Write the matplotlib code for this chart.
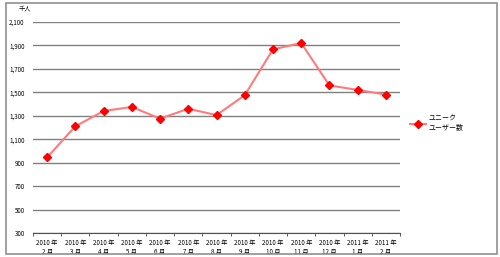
import numpy as np
import matplotlib
matplotlib.use('Agg')
import matplotlib.pyplot as plt
from matplotlib.patches import Rectangle

plt.rcParams['font.family'] = ['Noto Sans CJK JP', 'DejaVu Sans']

# データ
months = ['2010 年\n2 月', '2010 年\n3 月', '2010 年\n4 月', '2010 年\n5 月',
          '2010 年\n6 月', '2010 年\n7 月', '2010 年\n8 月', '2010 年\n9 月',
          '2010 年\n10 月', '2010 年\n11 月', '2010 年\n12 月', '2011 年\n1 月',
          '2011 年\n2 月']
users = [945, 1210, 1340, 1375, 1275, 1360, 1305, 1475, 1865, 1920, 1558, 1520, 1480]
yticks = [300, 500, 700, 900, 1100, 1300, 1500, 1700, 1900, 2100]

fig = plt.figure(figsize=(5, 2.57), dpi=100)
# 外枠
fig.patches.append(Rectangle((0.012, 0.01), 0.982, 0.978, transform=fig.transFigure,
                             fill=False, edgecolor='#909090', linewidth=1.2))

ax = fig.add_axes([0.066, 0.093, 0.734, 0.822])
x = np.arange(len(months))
ax.plot(x, users, color='#ff7b7b', linewidth=1.5, marker='D', markersize=4,
        markerfacecolor='#ff0000', markeredgecolor='#ff0000', label='ユニーク\nユーザー数')

ax.set_xlim(-0.5, len(months) - 0.5)
ax.set_ylim(300, 2100)
ax.set_yticks(yticks)
ax.set_yticklabels(['{:,}'.format(v) for v in yticks], fontsize=4.5)
ax.set_xticks(x)
ax.set_xticklabels(months, fontsize=4.5, linespacing=1.25)
ax.set_xticks(np.arange(-0.5, len(months)), minor=True)
ax.tick_params(axis='x', which='major', length=0, pad=4)
ax.tick_params(axis='x', which='minor', length=2, width=0.6, color='#404040')
ax.tick_params(axis='y', length=0, pad=6)

ax.grid(axis='y', color='#808080', linewidth=1)
ax.set_axisbelow(True)
for s in ['left', 'right', 'top']:
    ax.spines[s].set_visible(False)
ax.spines['bottom'].set_color('#505050')
ax.spines['bottom'].set_linewidth(0.8)

ax.text(-0.04, 1.045, '千人', transform=ax.transAxes, fontsize=4.5, ha='left', va='bottom')

ax.legend(loc='center left', bbox_to_anchor=(1.01, 0.52), frameon=False, fontsize=5,
          handlelength=2.3, handletextpad=0.4)

plt.savefig('out.png', dpi=100)
